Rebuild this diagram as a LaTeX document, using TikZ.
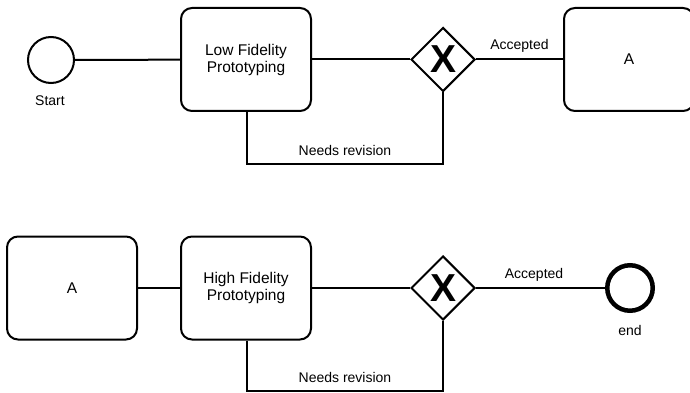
\documentclass[tikz,border=0pt]{standalone}
\usepackage{fontspec}
\setmainfont{Liberation Sans}
\usetikzlibrary{shapes.geometric}
\begin{document}
\begin{tikzpicture}[x=1pt,y=-1pt,
  task/.style={draw, line width=2pt, rounded corners=11pt, minimum width=130pt,
    minimum height=103pt, inner sep=0pt, align=center,
    font=\fontsize{15.5}{17}\selectfont},
  gateway/.style={draw, diamond, aspect=1, line width=2pt, minimum width=64pt,
    minimum height=64pt, inner sep=0pt,
    font=\fontsize{39}{39}\selectfont\bfseries},
  startev/.style={draw, circle, line width=2pt, minimum size=46pt, inner sep=0pt},
  endev/.style={draw, circle, line width=4.5pt, minimum size=45.5pt, inner sep=0pt},
  flow/.style={draw, line width=2pt},
  lbl/.style={font=\fontsize{14}{16}\selectfont, inner sep=0pt}
]
\useasboundingbox (0,0) rectangle (690,393);

% Low fidelity stage
\node[startev] (start) at (51,60) {};
\node[lbl] (startlbl) at (50,101) {Start};
\node[task] (lofi) at (246,59.5) {Low Fidelity\\Prototyping};
\node[gateway] (gw1) at (443,59.5) {X};
\node[task] (atop) at (629,59.5) {A};
\coordinate (loop1a) at (247,164);
\coordinate (loop1b) at (443,164);

\draw[flow] (start) -- (lofi);
\draw[flow] (lofi) -- (gw1);
\draw[flow] (gw1) -- (atop) node[lbl, midway, above=6pt] {Accepted};
\draw[flow] (lofi.south -| loop1a) -- (loop1a) -- (loop1b)
  node[lbl, pos=0.5, above=7pt] {Needs revision} -- (gw1.south);

% High fidelity stage
\node[task] (abot) at (72,288) {A};
\node[task] (hifi) at (246,288) {High Fidelity\\Prototyping};
\node[gateway] (gw2) at (443,288) {X};
\node[endev] (finish) at (630,288) {};
\node[lbl] (endlbl) at (630,330) {end};
\coordinate (loop2a) at (247,391);
\coordinate (loop2b) at (443,391);

\draw[flow] (abot) -- (hifi);
\draw[flow] (hifi) -- (gw2);
\draw[flow] (gw2) -- (finish) node[lbl, pos=0.45, above=6pt] {Accepted};
\draw[flow] (hifi.south -| loop2a) -- (loop2a) -- (loop2b)
  node[lbl, pos=0.5, above=7pt] {Needs revision} -- (gw2.south);
\end{tikzpicture}
\end{document}
